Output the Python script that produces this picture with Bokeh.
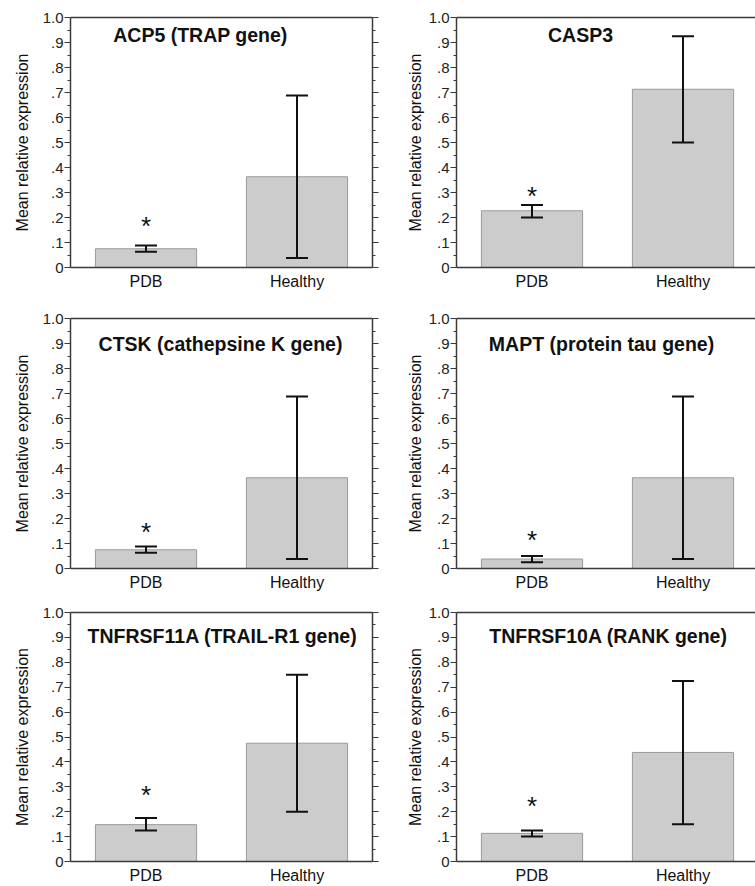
from bokeh.plotting import figure
from bokeh.models import (ColumnDataSource, Range1d, FixedTicker, LinearAxis,
                          Whisker, TeeHead, Label, CustomJSTickFormatter)
from bokeh.layouts import column, row
from bokeh.embed import file_html
from bokeh.resources import INLINE
from bokeh.core.properties import value

# ---------------- data ----------------
categories = ["PDB", "Healthy"]

titles = ["ACP5 (TRAP gene)", "CASP3", "CTSK (cathepsine K gene)",
          "MAPT (protein tau gene)", "TNFRSF11A (TRAIL-R1 gene)",
          "TNFRSF10A (RANK gene)"]

mean_acp5 = [0.075, 0.363]
low_acp5 = [0.063, 0.038]
high_acp5 = [0.088, 0.688]

mean_casp3 = [0.227, 0.713]
low_casp3 = [0.200, 0.500]
high_casp3 = [0.250, 0.925]

mean_ctsk = [0.075, 0.363]
low_ctsk = [0.063, 0.038]
high_ctsk = [0.088, 0.688]

mean_mapt = [0.038, 0.363]
low_mapt = [0.025, 0.038]
high_mapt = [0.050, 0.688]

mean_tnfrsf11a = [0.148, 0.475]
low_tnfrsf11a = [0.125, 0.200]
high_tnfrsf11a = [0.175, 0.750]

mean_tnfrsf10a = [0.113, 0.438]
low_tnfrsf10a = [0.100, 0.150]
high_tnfrsf10a = [0.125, 0.725]

# significance star heights (PDB bar)
star_y = [0.18, 0.30, 0.16, 0.125, 0.28, 0.235]

y_ticks = [0, 0.1, 0.2, 0.3, 0.4, 0.5, 0.6, 0.7, 0.8, 0.9, 1.0]
y_tick_labels = ["0", ".1", ".2", ".3", ".4", ".5", ".6", ".7", ".8", ".9", "1.0"]
y_minor = [0.05, 0.15, 0.25, 0.35, 0.45, 0.55, 0.65, 0.75, 0.85, 0.95]

means = [mean_acp5, mean_casp3, mean_ctsk, mean_mapt, mean_tnfrsf11a, mean_tnfrsf10a]
lows = [low_acp5, low_casp3, low_ctsk, low_mapt, low_tnfrsf11a, low_tnfrsf10a]
highs = [high_acp5, high_casp3, high_ctsk, high_mapt, high_tnfrsf11a, high_tnfrsf10a]

# ---------------- style / layout ----------------
FONT = "Liberation Sans"
AX = "#3a3a3a"
title_cx = [130, 124, 150, 145, 152, 152]       # px from frame left
title_y = [0.93, 0.93, 0.90, 0.90, 0.905, 0.905]
row_heights = [304, 295, 287]
row_tops = [17, 14, 13]
PX_PER_CAT = 151.0


def make_panel(i):
    col_i = i % 2
    row_i = i // 2
    left = col_i == 0
    width = 380 if left else 375
    bl = 70 if left else 76
    br = 8 if left else 0
    frame_w = width - bl - br
    x_end = frame_w / PX_PER_CAT
    height = row_heights[row_i]
    bt = row_tops[row_i]
    bb = height - bt - 250

    xs = [k + 0.5 for k in range(len(categories))]
    src = ColumnDataSource(dict(x=xs, mean=means[i], low=lows[i], high=highs[i],
                                cat=categories))

    p = figure(width=width, height=height, x_range=Range1d(0, x_end),
               y_range=Range1d(0, 1.0), output_backend="svg",
               toolbar_location=None, tools="",
               min_border_left=bl, min_border_right=br,
               min_border_top=bt, min_border_bottom=bb)
    p.xgrid.visible = False
    p.ygrid.visible = False
    p.outline_line_color = None
    p.background_fill_color = "white"
    p.border_fill_color = "white"

    # bars
    p.vbar(x="x", top="mean", width=0.67, source=src, fill_color="#cccccc",
           line_color="#9a9a9a", line_width=1)

    # error bars
    p.add_layout(Whisker(source=src, base="x", lower="low", upper="high",
                         level="overlay",
                         line_color="#111111", line_width=2,
                         upper_head=TeeHead(size=22, line_width=2, line_color="#111111"),
                         lower_head=TeeHead(size=22, line_width=2, line_color="#111111")))

    # star
    p.text(x=[xs[0]], y=[star_y[i]], text=["*"], text_font=value(FONT),
           text_font_size="26px", text_align="center", text_baseline="middle",
           y_offset=3, text_color="#111111")

    # title
    p.add_layout(Label(x=title_cx[i], x_units="screen", y=title_y[i], y_units="data",
                       text=titles[i], text_font=FONT, text_font_style="bold",
                       text_font_size="19.5px", text_align="center",
                       text_baseline="middle", text_color="#111111"))

    # y axis (left)
    ya = p.yaxis[0]
    ya.ticker = FixedTicker(ticks=y_ticks, minor_ticks=y_minor)
    ya.major_label_overrides = {t: l for t, l in zip(y_ticks, y_tick_labels)}
    ya.axis_label = "Mean relative expression"
    ya.axis_label_text_font = FONT
    ya.axis_label_text_font_style = "normal"
    ya.axis_label_text_font_size = "16px"
    ya.axis_label_text_color = "#111111"
    ya.axis_label_standoff = 9 if left else 2
    ya.major_label_text_font = FONT
    ya.major_label_text_font_size = "15px"
    ya.major_label_text_color = "#222222"
    ya.major_label_standoff = 1
    ya.major_tick_out = 6
    ya.major_tick_in = 0
    ya.minor_tick_out = 3
    ya.minor_tick_in = 0
    ya.axis_line_color = AX
    ya.axis_line_width = 1.5
    ya.major_tick_line_color = AX
    ya.minor_tick_line_color = AX

    # x axis (bottom)
    xa = p.xaxis[0]
    xa.ticker = FixedTicker(ticks=xs)
    xa.major_label_overrides = {x: c for x, c in zip(xs, categories)}
    xa.major_label_text_font = FONT
    xa.major_label_text_font_size = "16px"
    xa.major_label_text_color = "#111111"
    xa.major_label_standoff = 5
    xa.major_tick_line_color = None
    xa.minor_tick_line_color = None
    xa.major_tick_out = 0
    xa.axis_line_color = AX
    xa.axis_line_width = 1.5

    blank = CustomJSTickFormatter(code="return ''")

    # top line
    top = LinearAxis(ticker=FixedTicker(ticks=[]), formatter=blank,
                     major_tick_line_color=None, minor_tick_line_color=None,
                     axis_line_color=AX, axis_line_width=1.5, major_label_standoff=0)
    p.add_layout(top, "above")

    # right axis with ticks (left column only; right column is cut off)
    if left:
        ra = LinearAxis(ticker=FixedTicker(ticks=y_ticks, minor_ticks=y_minor),
                        formatter=blank, major_label_standoff=0,
                        major_tick_out=6, major_tick_in=0, minor_tick_out=3,
                        minor_tick_in=0, axis_line_color=AX, axis_line_width=1.5,
                        major_tick_line_color=AX, minor_tick_line_color=AX)
        p.add_layout(ra, "right")
    return p


panels = [make_panel(i) for i in range(6)]
layout = column(row(panels[0], panels[1]), row(panels[2], panels[3]),
                row(panels[4], panels[5]))

open("out.html", "w").write(file_html(layout, INLINE))
